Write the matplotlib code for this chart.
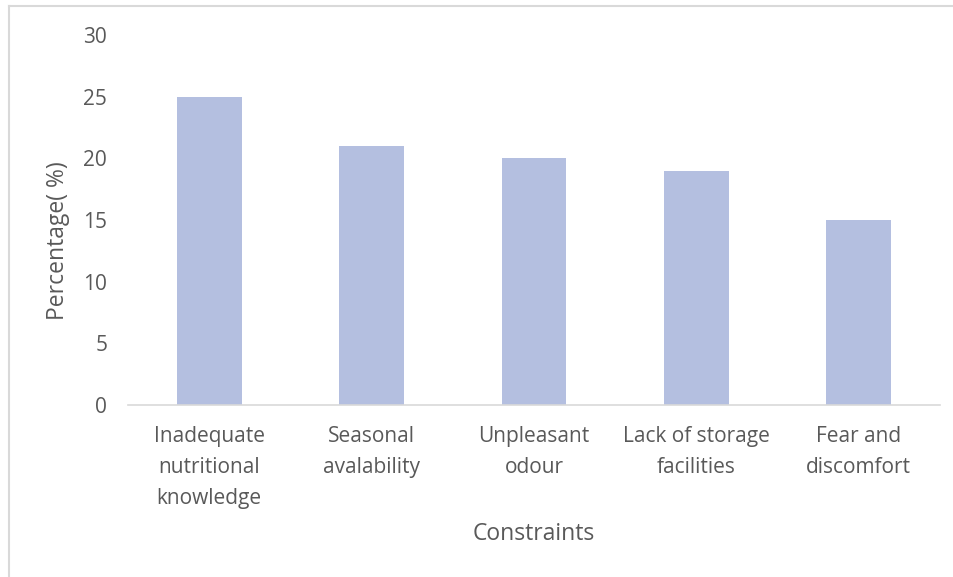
import matplotlib.pyplot as plt
from matplotlib.lines import Line2D

categories = ["Inadequate\nnutritional\nknowledge", "Seasonal\navalability",
              "Unpleasant\nodour", "Lack of storage\nfacilities", "Fear and\ndiscomfort"]
percentages = [25, 21, 20, 19, 15]
y_ticks = [0, 5, 10, 15, 20, 25, 30]

W, H = 954, 577
fig = plt.figure(figsize=(W / 100, H / 100), dpi=100)
plt.rcParams['font.family'] = ['Open Sans', 'DejaVu Sans']
text_color = '#595959'

ax = fig.add_axes([128 / W, 1 - 405 / H, (940 - 128) / W, (405 - 35) / H])
x = range(len(categories))
ax.bar(x, percentages, width=0.4, color='#b4bfe0')
ax.set_xlim(-0.5, len(categories) - 0.5)
ax.set_ylim(0, 30)
ax.set_yticks(y_ticks)
ax.set_xticks(list(x))
ax.set_xticklabels(categories, fontsize=15, color=text_color, linespacing=1.62)
ax.tick_params(axis='y', labelsize=15, labelcolor=text_color, length=0, pad=15)
ax.tick_params(axis='x', length=0, pad=15)
for s in ['top', 'right', 'left']:
    ax.spines[s].set_visible(False)
ax.spines['bottom'].set_color('#d9d9d9')
ax.spines['bottom'].set_linewidth(1.2)

# axis titles
fig.text(58 / W, 1 - 241 / H, "Percentage( %)", rotation=90, ha='center', va='center',
         fontsize=16.5, color=text_color)
fig.text(534 / W, 1 - 534 / H, "Constraints", ha='center', va='center',
         fontsize=16.5, color=text_color)

# outer chart frame (top and left edges)
fig.add_artist(Line2D([9.5 / W, 9.5 / W], [0, 1 - 5.5 / H], transform=fig.transFigure,
                      color='#d9d9d9', lw=1.5))
fig.add_artist(Line2D([9.5 / W, 1], [1 - 5.5 / H, 1 - 5.5 / H], transform=fig.transFigure,
                      color='#d9d9d9', lw=1.5))

fig.savefig("out.png", dpi=100, facecolor='white')
